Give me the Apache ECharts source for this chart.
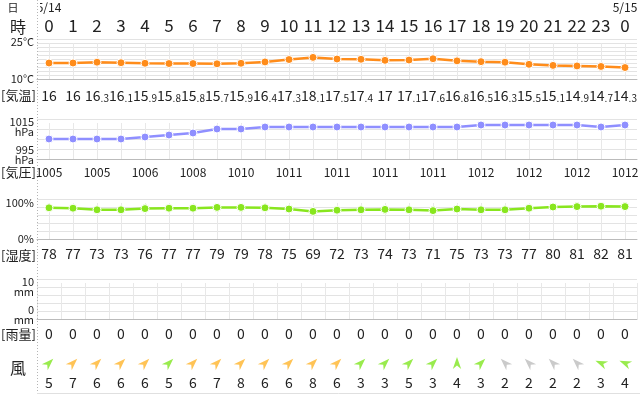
<!DOCTYPE html>
<html><head><meta charset="utf-8">
<script src="https://cdn.jsdelivr.net/npm/echarts@6/dist/echarts.min.js"></script>
<style>html,body{margin:0;padding:0;background:#fff}#c{width:640px;height:395px}</style>
</head><body><div id="c"></div>
<script>
// ---- data ----
const hours = ['0','1','2','3','4','5','6','7','8','9','10','11','12','13','14','15','16','17','18','19','20','21','22','23','0'];
const dates = ['5/14','','','','','','','','','','','','','','','','','','','','','','','','5/15'];
const temps = [16,16,16.3,16.1,15.9,15.8,15.8,15.7,15.9,16.4,17.3,18.1,17.5,17.4,17,17.1,17.6,16.8,16.5,16.3,15.5,15.1,14.9,14.7,14.3];
const pressures = [1005,1005,1005,1005,1006,1007,1008,1010,1010,1011,1011,1011,1011,1011,1011,1011,1011,1011,1012,1012,1012,1012,1012,1011,1012];
const humidity = [78,77,73,73,76,77,77,79,79,78,75,69,72,73,74,73,71,75,73,73,77,80,81,82,81];
const rain = [0,0,0,0,0,0,0,0,0,0,0,0,0,0,0,0,0,0,0,0,0,0,0,0,0];
const windSpeed = [5,7,6,6,6,5,6,7,8,6,6,8,6,3,3,5,3,4,3,2,2,2,2,3,4];
const windDir = ['南西','南西','南西','南西','南西','南西','南西','南西','南西','南西','南西','南西','南西','南西','南西','南西','南西','南','南西','南東','南東','南東','南東','東南東','東南東'];
const tempTicks = ['10°C','25°C'];
const pressTicks = ['995','1015'];
const humTicks = ['0%','100%'];
const rainTicks = ['0','10'];

// ---- chart ----
const FONT = "'Noto Sans CJK JP','Noto Sans',sans-serif";
const TXT = '#222';
const DIRS16 = ['北','北北東','北東','東北東','東','東南東','南東','南南東','南','南南西','南西','西南西','西','西北西','北西','北北西'];
function rotOf(d){ const from = DIRS16.indexOf(d)*22.5; return -(from+180); }
function windColor(s){ return s>=6 ? '#ffb42a' : (s>=3 ? '#80e620' : '#bdbdbd'); }

const LEFT = 37, WIDTH = 600;
const grid = [[39,40],[119,40],[199,40],[279,40],[352,22]].map(g=>({left:LEFT,width:WIDTH,top:g[0],height:g[1],containLabel:false,outerBoundsMode:'none'}));

function bottomAxis(gi, formatter, o){
  o = o || {};
  return {
    type:'category', gridIndex:gi, data:hours, position:'bottom', boundaryGap:true,
    axisLine:{show:o.line!==false, lineStyle:{color:'#bbb',width:1}},
    axisTick:{show:o.tick!==false, inside:true, alignWithLabel:o.center!==false, interval:0, length:36, lineStyle:{color:'#e8e8e8'}},
    axisLabel:{interval:o.interval||0, formatter, margin:o.margin||8, fontSize:o.fontSize||14, color:TXT, fontFamily:FONT, rich:o.rich},
    splitLine:{show:false}
  };
}
function tempFmt(v,i){ const p=String(temps[i]).split('.'); return p.length>1 ? '{a|'+p[0]+'}{b|.'+p[1]+'}' : '{a|'+p[0]+'}'; }

const xAxis = [
  bottomAxis(0, tempFmt, {margin:8, rich:{a:{fontSize:14,color:TXT,fontFamily:FONT,lineHeight:16,verticalAlign:'bottom'},b:{fontSize:10,color:TXT,fontFamily:FONT,lineHeight:14,verticalAlign:'bottom'}}}),
  {type:'category', gridIndex:0, data:hours, position:'top', axisLine:{show:false}, axisTick:{show:false}, axisLabel:{interval:0, margin:5, fontSize:17, color:TXT, fontFamily:FONT}},
  {type:'category', gridIndex:0, data:dates, position:'top', axisLine:{show:false}, axisTick:{show:false}, axisLabel:{interval:0, margin:26, fontSize:12, color:TXT, fontFamily:FONT}},
  bottomAxis(1, (v,i)=>String(pressures[i]), {margin:7, fontSize:12, interval:1}),
  bottomAxis(2, (v,i)=>String(humidity[i]), {margin:8, fontSize:14}),
  bottomAxis(3, (v,i)=>String(rain[i]), {margin:8, fontSize:14, center:false}),
  bottomAxis(4, (v,i)=>String(windSpeed[i]), {margin:2, fontSize:14, line:false, tick:false})
];

function yAx(gi,min,max,interval,fmt,rich){
  return {type:'value', gridIndex:gi, min, max, interval,
    axisLine:{show:false}, axisTick:{show:false},
    splitLine:{show:true, lineStyle:{color:'#e3e3e3',width:1}},
    axisLabel:{show:!!fmt, formatter:fmt, margin:3, color:TXT, fontFamily:FONT, fontSize:11, rich}};
}
const baseRich = {a:{fontSize:11,lineHeight:10.5,color:TXT,fontFamily:FONT}, s16:{fontSize:4,lineHeight:16}, s8:{fontSize:4,lineHeight:8}, s6:{fontSize:4,lineHeight:6}, s7:{fontSize:4,lineHeight:7}, a12:{fontSize:11,lineHeight:12,color:TXT,fontFamily:FONT}};
const near=(a,b)=>Math.abs(a-b)<0.01;
const yAxis = [
  yAx(0,10,25,1.5, v=> near(v,25) ? '{s6| }\n{a12|'+tempTicks[1]+'}' : (near(v,10) ? '{a12|'+tempTicks[0]+'}' : ''), baseRich),
  yAx(1,995,1015,5, v=> v===1015 ? '{s16| }\n{a|'+pressTicks[1]+'}\n{a|hPa}' : (v===995 ? '{a|'+pressTicks[0]+'}\n{a|hPa}\n{s8| }' : ''), baseRich),
  yAx(2,0,100,20, v=> v===100 ? '{s7| }\n{a12|'+humTicks[1]+'}' : (v===0 ? '{a12|'+humTicks[0]+'}' : ''), baseRich),
  yAx(3,0,10,2, v=> v===10 ? '{s16| }\n{a|'+rainTicks[1]+'}\n{a|mm}' : (v===0 ? '{a|'+rainTicks[0]+'}\n{a|mm}\n{s8| }' : ''), baseRich),
  {type:'value', gridIndex:4, min:0, max:1, show:false}
];

function lineSeries(xi, yi, data, color){
  return {type:'line', xAxisIndex:xi, yAxisIndex:yi, data, symbol:'circle', symbolSize:8, showSymbol:true,
    lineStyle:{color, width:2.5}, itemStyle:{color, borderColor:'#fff', borderWidth:1}, emphasis:{disabled:true}, animation:false, z:5};
}

const series = [
  lineSeries(0,0,temps,'#ff8c1a'),
  lineSeries(3,1,pressures,'#8f8fff'),
  lineSeries(4,2,humidity,'#88e61e'),
  {type:'bar', xAxisIndex:5, yAxisIndex:3, data:rain, barWidth:'80%', itemStyle:{color:'#6aa8ff'}, animation:false},
  {type:'scatter', xAxisIndex:6, yAxisIndex:4, animation:false,
    symbol:'path://M0,0 L5,12 L0,8.5 L-5,12 Z', symbolSize:[10,12], symbolKeepAspect:true,
    data: windSpeed.map((s,i)=>({value:[i,0.5], symbolRotate:rotOf(windDir[i]), itemStyle:{color:windColor(s)}}))}
];

function txt(t,x,y,size){ return {type:'text', x, y, z:101, style:{text:t, align:'center', verticalAlign:'middle', fontSize:size, fontFamily:FONT, fill:TXT}}; }
const graphic = [
  {type:'rect', shape:{x:0,y:0,width:40,height:15}, style:{fill:'#fff'}, z:100},
  {type:'line', shape:{x1:37.5,y1:0,x2:37.5,y2:395}, style:{stroke:'#b5b5b5', lineDash:[1,2], lineWidth:1}, z:101},
  {type:'line', shape:{x1:37,y1:393.5,x2:640,y2:393.5}, style:{stroke:'#e0e0e0', lineWidth:1}, z:101},
  txt('日',13,8,11),
  txt('時',18,26.5,16),
  txt('[気温]',18.5,95,13),
  txt('[気圧]',18.5,172,13),
  txt('[湿度]',18.5,255,13),
  txt('[雨量]',18.5,334,13),
  txt('風',18,368,16)
];

const chart = echarts.init(document.getElementById('c'));
chart.setOption({animation:false, backgroundColor:'#fff', grid, xAxis, yAxis, series, graphic, tooltip:{show:false}});
</script></body></html>
